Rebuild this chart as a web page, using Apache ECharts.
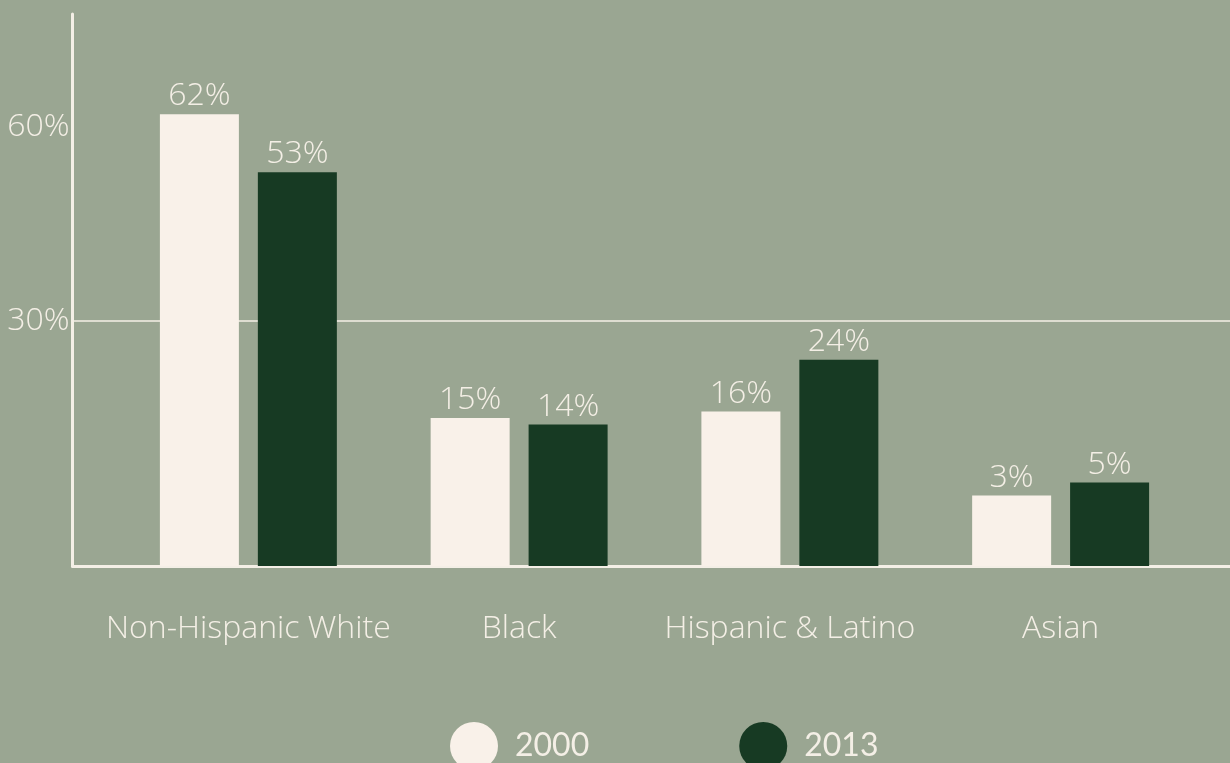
<!DOCTYPE html>
<html>
<head>
<meta charset="utf-8">
<script src="https://cdn.jsdelivr.net/npm/echarts@6/dist/echarts.min.js"></script>
<style>
  html, body { margin: 0; padding: 0; background: #9aa692; }
  #chart { width: 1230px; height: 763px; }
</style>
</head>
<body>
<div id="chart"></div>
<script>
// values
const groups = ['Non-Hispanic White', 'Black', 'Hispanic & Latino', 'Asian'];
const years = ['2000', '2013'];
const share2000 = [62, 15, 16, 3];
const share2013 = [53, 14, 24, 5];
const yLabelValues = [30, 60];
const yLineValues = [30];

const cream = '#f9f1e9';
const forest = '#173a23';
const ink = '#f4efe6';
const font = '"Open Sans", sans-serif';

// the bars start a little below 0 in the original, so each bar is extended by a base piece
const yMin = -7.9;
const yMax = 77.5;
const baseline = groups.map(() => -yMin);

const chart = echarts.init(document.getElementById('chart'), null, { renderer: 'canvas' });

function baseSeries(stack, color) {
  return {
    type: 'bar',
    stack: stack,
    xAxisIndex: 1,
    yAxisIndex: 1,
    data: baseline,
    barWidth: 79,
    barGap: '24%',
    silent: true,
    itemStyle: { color: color }
  };
}

function barSeries(name, stack, values, color) {
  return {
    name: name,
    type: 'bar',
    stack: stack,
    xAxisIndex: 1,
    yAxisIndex: 1,
    data: values,
    barWidth: 79,
    barGap: '24%',
    itemStyle: { color: color },
    label: {
      show: true,
      position: 'top',
      distance: 2,
      color: ink,
      fontFamily: font,
      fontWeight: 300,
      fontSize: 32,
      formatter: p => p.value + '%'
    }
  };
}

let option = {
  backgroundColor: '#9aa692',
  animation: false,
  grid: [
    { left: 72.5, right: 0, top: 14, bottom: 197 },
    { left: 113, right: 34, top: 14, bottom: 197 }
  ],
  xAxis: [
    {
      gridIndex: 0,
      type: 'value',
      min: 0,
      max: 1,
      axisLine: { show: true, onZero: false, lineStyle: { color: ink, width: 3 } },
      axisTick: { show: false },
      axisLabel: { show: false },
      splitLine: { show: false }
    },
    {
      gridIndex: 1,
      type: 'category',
      data: groups,
      axisLine: { show: false },
      axisTick: { show: false },
      axisLabel: {
        interval: 0,
        color: ink,
        fontFamily: font,
        fontWeight: 300,
        fontSize: 32,
        margin: 47
      }
    }
  ],
  yAxis: [
    {
      gridIndex: 0,
      type: 'value',
      min: yMin,
      max: yMax,
      axisLine: { show: true, onZero: false, lineStyle: { color: ink, width: 3 } },
      axisTick: { show: false, customValues: yLineValues },
      axisLabel: {
        customValues: yLabelValues,
        color: ink,
        fontFamily: font,
        fontWeight: 300,
        fontSize: 32,
        margin: 3,
        formatter: v => v + '%'
      },
      splitLine: { show: true, lineStyle: { color: ink, width: 1.5 } }
    },
    {
      gridIndex: 1,
      type: 'value',
      min: 0,
      max: yMax - yMin,
      show: false,
      splitLine: { show: false }
    }
  ],
  legend: {
    left: 445,
    top: 717,
    itemWidth: 48,
    itemHeight: 48,
    itemGap: 150,
    icon: 'circle',
    data: years,
    textStyle: {
      color: ink,
      fontFamily: 'Lato, sans-serif',
      fontSize: 32,
      padding: [0, 0, 0, 12]
    }
  },
  series: [
    baseSeries('a', cream),
    barSeries(years[0], 'a', share2000, cream),
    baseSeries('b', forest),
    barSeries(years[1], 'b', share2013, forest)
  ]
};

chart.setOption(option);
</script>
</body>
</html>
